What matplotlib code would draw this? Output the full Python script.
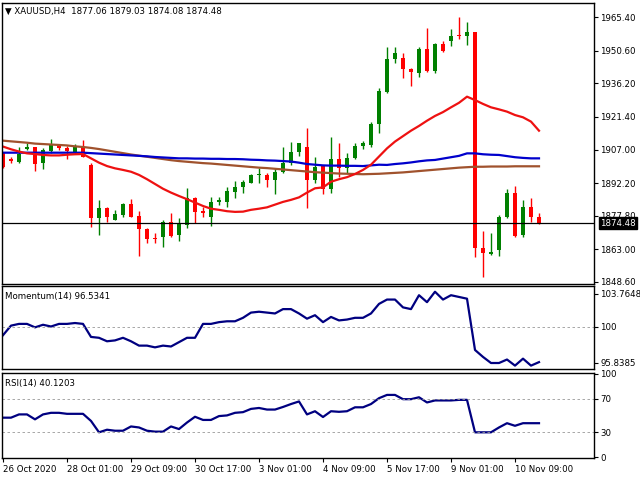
import numpy as np
import matplotlib.pyplot as plt

# H4 candles, XAUUSD
opens = [1905.3, 1903.0, 1901.7, 1907.1, 1908.0, 1900.9, 1906.5, 1909.0, 1907.5, 1906.1,
         1908.3, 1900.2, 1876.7, 1881.1, 1875.9, 1878.1, 1883.0, 1877.7, 1871.8, 1868.0,
         1868.6, 1875.2, 1869.2, 1873.7, 1885.5, 1880.1, 1877.4, 1883.7, 1884.0, 1888.4,
         1890.3, 1892.4, 1895.9, 1895.8, 1893.6, 1897.2, 1900.9, 1906.1, 1908.3, 1893.6,
         1899.7, 1889.5, 1902.7, 1898.7, 1903.1, 1908.6, 1909.0, 1918.2, 1932.5, 1946.7,
         1947.2, 1942.5, 1940.9, 1951.3, 1941.6, 1953.4, 1955.0, 1957.3, 1957.0, 1958.8,
         1863.5, 1861.0, 1862.7, 1877.1, 1888.0, 1869.3, 1881.8, 1877.06]
highs = [1906.1, 1903.9, 1908.3, 1909.7, 1908.3, 1907.5, 1911.5, 1909.4, 1908.6, 1909.4,
         1911.2, 1900.9, 1884.8, 1881.8, 1880.4, 1883.6, 1885.1, 1880.1, 1872.3, 1870.1,
         1875.7, 1878.9, 1876.7, 1889.9, 1886.2, 1881.5, 1885.9, 1885.9, 1890.6, 1893.1,
         1893.6, 1896.2, 1898.7, 1896.5, 1898.9, 1908.3, 1910.5, 1910.0, 1916.3, 1903.9,
         1900.2, 1912.7, 1909.7, 1905.3, 1909.7, 1910.9, 1919.3, 1934.0, 1952.3, 1952.3,
         1949.4, 1942.8, 1952.3, 1960.4, 1954.1, 1955.0, 1960.0, 1965.3, 1963.2, 1958.8,
         1871.2, 1870.1, 1878.1, 1889.5, 1890.9, 1884.8, 1885.5, 1879.03]
lows = [1898.7, 1900.9, 1900.9, 1906.8, 1897.7, 1898.3, 1905.3, 1906.8, 1902.7, 1905.0,
        1903.6, 1873.0, 1869.3, 1875.2, 1875.7, 1877.1, 1877.1, 1860.1, 1865.7, 1865.7,
        1864.2, 1868.6, 1866.8, 1872.3, 1874.8, 1877.4, 1873.3, 1882.6, 1881.5, 1885.8,
        1887.7, 1892.1, 1892.1, 1890.6, 1887.4, 1896.5, 1900.2, 1904.2, 1881.1, 1892.4,
        1887.4, 1887.7, 1895.0, 1896.5, 1902.7, 1907.1, 1908.0, 1914.4, 1932.1, 1945.0,
        1938.4, 1935.0, 1939.1, 1941.3, 1940.9, 1950.1, 1952.6, 1955.6, 1953.1, 1859.8,
        1850.7, 1860.5, 1860.1, 1876.7, 1868.3, 1868.6, 1875.2, 1874.08]
closes = [1899.4, 1902.1, 1905.0, 1908.3, 1900.6, 1906.8, 1909.0, 1907.5, 1906.5, 1908.3,
          1903.9, 1876.7, 1881.1, 1877.1, 1878.6, 1883.0, 1877.4, 1871.8, 1867.7, 1867.7,
          1875.2, 1868.9, 1874.2, 1885.5, 1879.6, 1878.9, 1883.7, 1884.8, 1888.7, 1890.3,
          1892.7, 1895.8, 1896.2, 1893.6, 1897.2, 1900.9, 1906.1, 1909.7, 1893.6, 1899.4,
          1889.5, 1902.7, 1898.7, 1903.1, 1908.6, 1909.7, 1918.2, 1932.9, 1946.7, 1949.4,
          1942.3, 1941.3, 1951.3, 1941.8, 1953.5, 1950.6, 1957.0, 1957.0, 1958.8, 1863.5,
          1861.3, 1862.0, 1877.4, 1888.0, 1868.9, 1881.8, 1877.1, 1874.48]

ma_red = [1908.3, 1907.1, 1906.1, 1905.3, 1905.0, 1904.6, 1904.4, 1904.4, 1904.7, 1904.9,
          1905.0, 1903.1, 1901.2, 1899.7, 1898.7, 1898.0, 1897.2, 1895.8, 1893.9, 1891.8,
          1889.7, 1888.0, 1886.5, 1885.1, 1883.6, 1882.1, 1880.9, 1880.4, 1879.8, 1879.5,
          1879.6, 1880.4, 1880.9, 1881.5, 1882.7, 1883.9, 1884.8, 1885.9, 1888.0, 1889.9,
          1890.3, 1892.8, 1893.9, 1894.8, 1896.2, 1898.0, 1900.3, 1903.9, 1907.5, 1910.5,
          1912.9, 1915.3, 1917.4, 1919.7, 1921.8, 1923.5, 1925.6, 1927.6, 1930.3, 1928.8,
          1927.1, 1925.6, 1924.7, 1923.7, 1922.2, 1921.2, 1919.3, 1915.3]
ma_blue = [1905.6, 1905.6, 1905.6, 1905.6, 1905.6, 1905.6, 1905.6, 1905.6, 1905.6, 1905.6,
           1905.6, 1905.4, 1905.2, 1905.0, 1904.8, 1904.6, 1904.4, 1904.2, 1904.0, 1903.7,
           1903.5, 1903.3, 1903.1, 1903.1, 1903.0, 1903.0, 1902.9, 1902.9, 1902.8, 1902.8,
           1902.7, 1902.5, 1902.4, 1902.2, 1902.1, 1901.9, 1901.7, 1901.2, 1900.6, 1900.3,
           1900.0, 1899.9, 1899.9, 1899.8, 1899.8, 1899.7, 1900.0, 1900.3, 1900.2, 1900.6,
           1900.9, 1901.3, 1901.8, 1902.2, 1902.4, 1903.0, 1903.6, 1904.2, 1905.3, 1905.3,
           1904.9, 1904.7, 1904.6, 1904.1, 1903.6, 1903.3, 1903.1, 1903.1]
ma_brown = [1910.9, 1910.6, 1910.3, 1910.0, 1909.6, 1909.4, 1909.2, 1909.0, 1908.8, 1908.4,
            1908.1, 1907.7, 1907.2, 1906.6, 1906.0, 1905.4, 1904.8, 1904.3, 1903.8, 1903.3,
            1902.8, 1902.3, 1901.9, 1901.6, 1901.3, 1901.0, 1900.8, 1900.5, 1900.2, 1899.9,
            1899.6, 1899.3, 1899.0, 1898.8, 1898.5, 1898.2, 1897.9, 1897.6, 1897.3, 1897.0,
            1896.8, 1896.6, 1896.4, 1896.3, 1896.2, 1896.1, 1896.2, 1896.3, 1896.5, 1896.7,
            1896.9, 1897.2, 1897.5, 1897.8, 1898.1, 1898.4, 1898.7, 1899.0, 1899.2, 1899.4,
            1899.4, 1899.5, 1899.5, 1899.5, 1899.6, 1899.6, 1899.6, 1899.6]

momentum = [99.0, 100.1, 100.3, 100.3, 99.9, 100.2, 100.0, 100.3, 100.3, 100.4,
            100.3, 98.8, 98.7, 98.3, 98.4, 98.7, 98.3, 97.8, 97.8, 97.6,
            97.8, 97.7, 98.2, 98.7, 98.7, 100.3, 100.3, 100.5, 100.6, 100.6,
            101.0, 101.6, 101.7, 101.6, 101.5, 102.0, 102.0, 101.5, 100.9, 101.3,
            100.5, 101.1, 100.7, 100.8, 101.0, 101.0, 101.5, 102.6, 103.1, 103.1,
            102.2, 102.0, 103.6, 102.8, 104.0, 103.1, 103.6, 103.4, 103.2, 97.3,
            96.5, 95.8, 95.8, 96.2, 95.5, 96.3, 95.5, 95.9]
rsi = [47.4, 47.4, 51.3, 51.3, 45.4, 51.3, 53.2, 53.2, 52.0, 52.0,
       52.0, 43.5, 29.9, 33.0, 31.8, 31.8, 36.9, 35.7, 31.8, 30.7,
       30.7, 36.9, 33.8, 41.6, 48.5, 44.7, 44.7, 49.3, 50.1, 53.2,
       54.0, 57.9, 59.0, 57.1, 57.1, 60.2, 63.7, 66.8, 51.3, 55.1,
       48.2, 55.1, 54.4, 55.1, 59.8, 59.8, 63.7, 70.7, 74.6, 74.6,
       69.5, 69.5, 71.8, 65.6, 68.0, 68.0, 68.0, 68.7, 68.7, 29.9,
       29.9, 29.9, 35.7, 40.8, 37.7, 40.8, 40.8, 40.8]

price_ticks = [1848.60, 1863.00, 1877.80, 1892.20, 1907.00, 1921.40, 1936.20, 1950.60, 1965.40]
date_labels = ['26 Oct 2020', '28 Oct 01:00', '29 Oct 09:00', '30 Oct 17:00', '3 Nov 01:00',
               '4 Nov 09:00', '5 Nov 17:00', '9 Nov 01:00', '10 Nov 09:00']
last_price = 1874.48

W, H = 640, 480
fig = plt.figure(figsize=(6.4, 4.8), dpi=100)
fs = 6.2


def px_axes(x0, y0, x1, y1):
    return fig.add_axes([x0 / W, 1 - y1 / H, (x1 - x0) / W, (y1 - y0) / H])


ax1 = px_axes(2, 3, 594, 284)
ax2 = px_axes(2, 286, 594, 369)
ax3 = px_axes(2, 373, 594, 458)

n = len(opens)
x = np.arange(n)
xlim = (-0.125, 73.875)
for ax in (ax1, ax2, ax3):
    ax.set_xlim(*xlim)
    ax.yaxis.tick_right()
    ax.set_xticks([])
    ax.tick_params(axis='y', labelsize=fs, length=3, width=0.8, pad=1.5)
    for s in ax.spines.values():
        s.set_linewidth(1.0)

# candles
for i in range(n):
    col = '#008000' if closes[i] >= opens[i] else '#ff0000'
    ax1.vlines(x[i], lows[i], highs[i], color=col, lw=1)
    lo, hi = sorted([opens[i], closes[i]])
    if hi - lo < 0.4:
        hi = lo + 0.4
    ax1.bar(x[i], hi - lo, bottom=lo, width=0.62, color=col, lw=0)

ax1.plot(x, ma_brown, color='#a0522d', lw=1.6)
ax1.plot(x, ma_blue, color='#0000cc', lw=1.6)
ax1.plot(x, ma_red, color='#ee1111', lw=1.6)
ax1.axhline(last_price, color='black', lw=0.9)
ax1.set_ylim(1847.7, 1971.6)
ax1.set_yticks(price_ticks)
ax1.set_yticklabels(['%.2f' % t for t in price_ticks])
ax1.text(1.01, (last_price - 1847.7) / (1971.6 - 1847.7), '%.2f' % last_price,
         transform=ax1.transAxes, fontsize=fs, color='white', va='center', ha='left',
         bbox=dict(boxstyle='square,pad=0.15', fc='black', ec='black'))
ax1.text(0.005, 0.985, '\u25bc XAUUSD,H4  1877.06 1879.03 1874.08 1874.48',
         transform=ax1.transAxes, fontsize=fs, va='top', ha='left')

ax2.plot(x, momentum, color='#000080', lw=1.6)
ax2.axhline(100, color='#999999', lw=0.6, ls=(0, (3, 3)))
ax2.set_ylim(95.11, 104.66)
ax2.set_yticks([95.8385, 100, 103.7648])
ax2.set_yticklabels(['95.8385', '100', '103.7648'])
ax2.text(0.005, 0.93, 'Momentum(14) 96.5341', transform=ax2.transAxes,
         fontsize=fs, va='top', ha='left')

ax3.plot(x, rsi, color='#000080', lw=1.6)
for lv in (30, 70):
    ax3.axhline(lv, color='#999999', lw=0.6, ls=(0, (3, 3)))
ax3.set_ylim(-0.8, 100.8)
ax3.set_yticks([0, 30, 70, 100])
ax3.text(0.005, 0.93, 'RSI(14) 40.1203', transform=ax3.transAxes,
         fontsize=fs, va='top', ha='left')

ax3.set_xticks(x[::8][:len(date_labels)])
ax3.set_xticklabels(date_labels, ha='left')
ax3.tick_params(axis='x', labelsize=fs, length=3, pad=2)

fig.savefig('out.png', dpi=100)
